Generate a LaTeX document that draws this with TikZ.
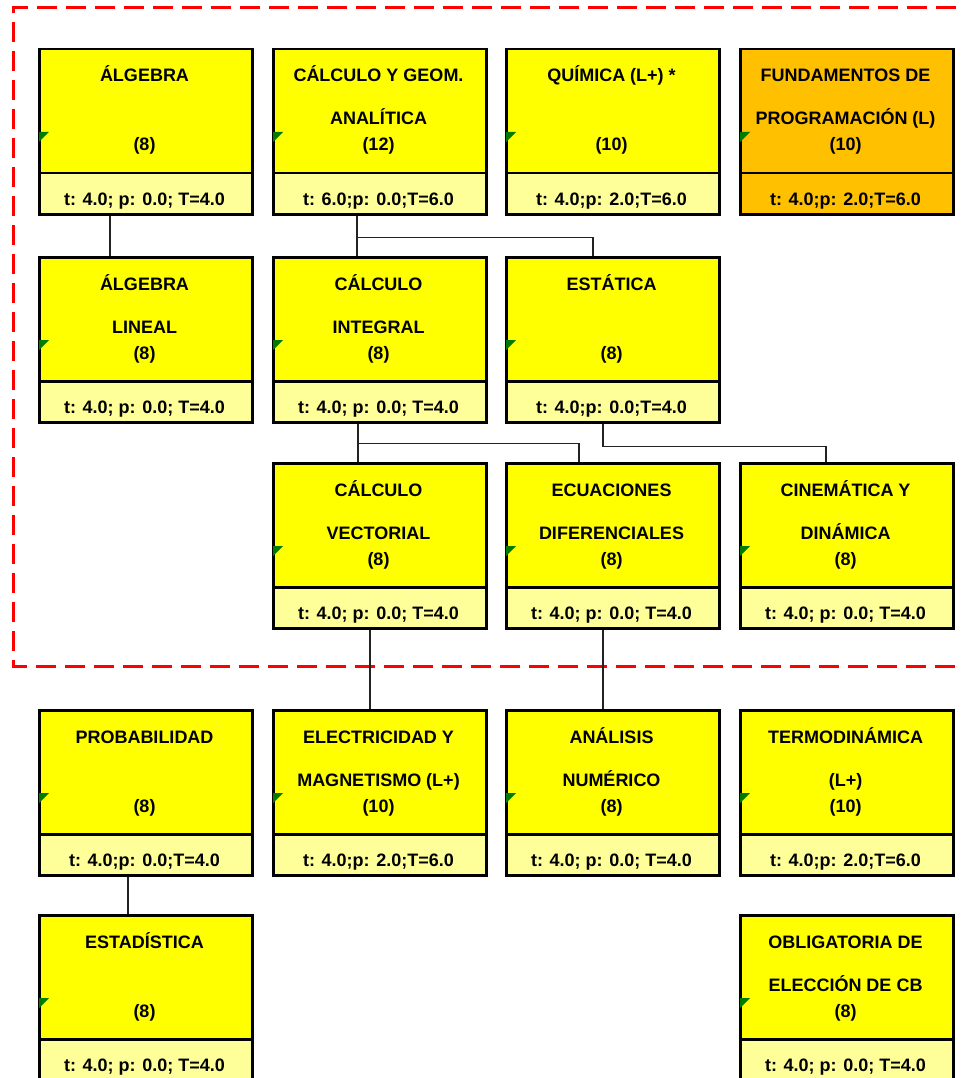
\documentclass[tikz,border=0pt]{standalone}
\usepackage{fontspec}
\setmainfont{Liberation Sans}
\usetikzlibrary{calc}
\definecolor{boxyellow}{HTML}{FFFF00}
\definecolor{paleyellow}{HTML}{FFFF99}
\definecolor{boxorange}{HTML}{FFC000}
\definecolor{tridgreen}{HTML}{007A00}
\definecolor{dashred}{HTML}{FF0000}
\definecolor{linkgray}{HTML}{222222}
\tikzset{
  topbox/.style={draw=black, line width=2.5pt, minimum width=213pt, minimum height=124pt, inner sep=0pt, anchor=north west},
  botbox/.style={draw=black, line width=2.5pt, minimum width=213pt, minimum height=41pt, inner sep=0pt, anchor=north west},
  ctext/.style={font=\fontsize{18}{20}\selectfont\bfseries, inner sep=0pt, anchor=base},
  link/.style={draw=linkgray, line width=1.5pt},
  dashframe/.style={draw=dashred, line width=3pt, dash pattern=on 20pt off 9pt},
}
\newcommand\course[9]{%
  \node[topbox, fill=#8] (#1) at (#2,#3) {};
  \node[botbox, fill=#9] (#1b) at (#2,#3+124) {};
  \fill[tridgreen] (#2+1,#3+84) -- ++(10,0) -- ++(-10,10) -- cycle;
  \node[ctext] (#1l1) at (#2+106.5,#3+34) {#4};
  \node[ctext] (#1l2) at (#2+106.5,#3+77) {#5};
  \node[ctext] (#1n) at (#2+106.5,#3+103) {#6};
  \node[ctext] (#1t) at (#2+106.5,#3+157) {#7};
}
\begin{document}
\begin{tikzpicture}[x=1pt, y=-1pt]
\useasboundingbox (0,0) rectangle (963,1078);
\fill[white] (0,0) rectangle (963,1078);
\draw[dashframe] (985,8) -- (13,8) -- (13,666) -- (985,666);
% row 1
\course{alg}{38}{48}{ÁLGEBRA}{}{(8)}{t: 4.0; p: 0.0; T=4.0}{boxyellow}{paleyellow}
\course{calc}{272}{48}{CÁLCULO Y GEOM.}{ANALÍTICA}{(12)}{t: 6.0;p: 0.0;T=6.0}{boxyellow}{paleyellow}
\course{quim}{505}{48}{QUÍMICA (L+) *}{}{(10)}{t: 4.0;p: 2.0;T=6.0}{boxyellow}{paleyellow}
\course{fund}{739}{48}{FUNDAMENTOS DE}{PROGRAMACIÓN (L)}{(10)}{t: 4.0;p: 2.0;T=6.0}{boxorange}{boxorange}
% row 2
\course{alglin}{38}{256}{ÁLGEBRA}{LINEAL}{(8)}{t: 4.0; p: 0.0; T=4.0}{boxyellow}{paleyellow}
\course{calint}{272}{256}{CÁLCULO}{INTEGRAL}{(8)}{t: 4.0; p: 0.0; T=4.0}{boxyellow}{paleyellow}
\course{est}{505}{256}{ESTÁTICA}{}{(8)}{t: 4.0;p: 0.0;T=4.0}{boxyellow}{paleyellow}
% row 3
\course{vec}{272}{462}{CÁLCULO}{VECTORIAL}{(8)}{t: 4.0; p: 0.0; T=4.0}{boxyellow}{paleyellow}
\course{ecu}{505}{462}{ECUACIONES}{DIFERENCIALES}{(8)}{t: 4.0; p: 0.0; T=4.0}{boxyellow}{paleyellow}
\course{cin}{739}{462}{CINEMÁTICA Y}{DINÁMICA}{(8)}{t: 4.0; p: 0.0; T=4.0}{boxyellow}{paleyellow}
% row 4
\course{prob}{38}{709}{PROBABILIDAD}{}{(8)}{t: 4.0;p: 0.0;T=4.0}{boxyellow}{paleyellow}
\course{elec}{272}{709}{ELECTRICIDAD Y}{MAGNETISMO (L+)}{(10)}{t: 4.0;p: 2.0;T=6.0}{boxyellow}{paleyellow}
\course{ana}{505}{709}{ANÁLISIS}{NUMÉRICO}{(8)}{t: 4.0; p: 0.0; T=4.0}{boxyellow}{paleyellow}
\course{term}{739}{709}{TERMODINÁMICA}{(L+)}{(10)}{t: 4.0;p: 2.0;T=6.0}{boxyellow}{paleyellow}
% row 5
\course{estad}{38}{914}{ESTADÍSTICA}{}{(8)}{t: 4.0; p: 0.0; T=4.0}{boxyellow}{paleyellow}
\course{oblig}{739}{914}{OBLIGATORIA DE}{ELECCIÓN DE CB}{(8)}{t: 4.0; p: 0.0; T=4.0}{boxyellow}{paleyellow}
% connectors
\draw[link] ($(algb.south west)+(72,0)$) -- ($(alglin.north west)+(72,0)$);
\draw[link] ($(calcb.south west)+(85,0)$) -- ($(calint.north west)+(85,0)$);
\draw[link] ($(calcb.south west)+(85,22)$) -| ($(est.north west)+(88,0)$);
\draw[link] ($(calintb.south west)+(86,0)$) -- ($(vec.north west)+(86,0)$);
\draw[link] ($(calintb.south west)+(86,20)$) -| ($(ecu.north west)+(74,0)$);
\draw[link] ($(estb.south west)+(98,0)$) -- ++(0,23) -| ($(cin.north west)+(87,0)$);
\draw[link] ($(vecb.south west)+(98,0)$) -- ($(elec.north west)+(98,0)$);
\draw[link] ($(ecub.south west)+(98,0)$) -- ($(ana.north west)+(98,0)$);
\draw[link] ($(probb.south west)+(90,0)$) -- ($(estad.north west)+(90,0)$);
\end{tikzpicture}
\end{document}
